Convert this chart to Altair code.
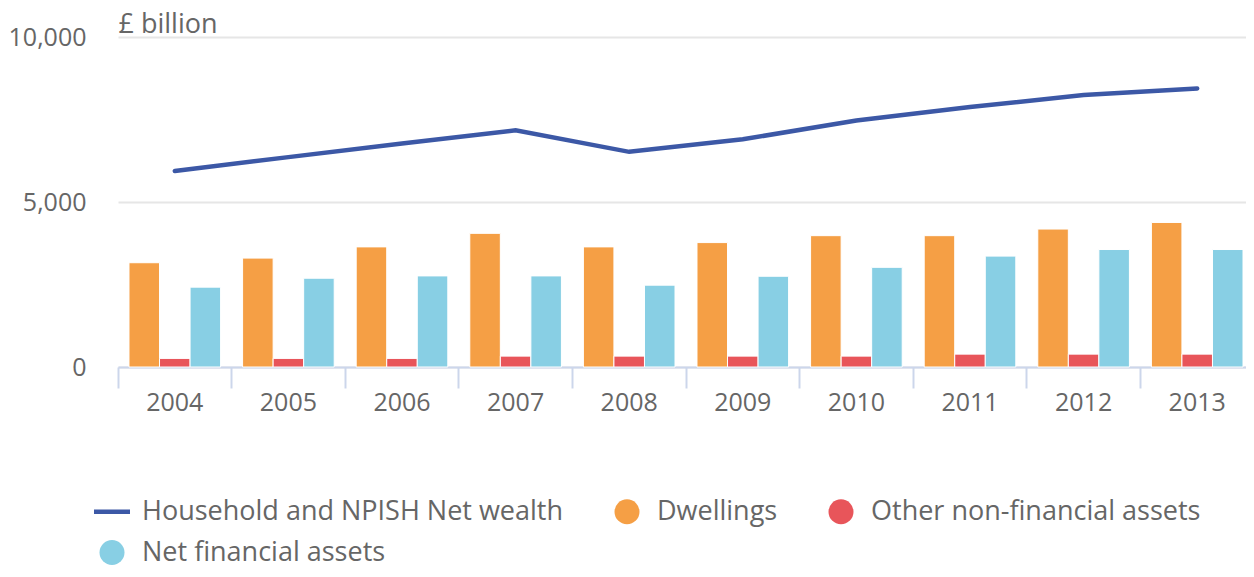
import altair as alt
import pandas as pd

years = ["2004", "2005", "2006", "2007", "2008", "2009", "2010", "2011", "2012", "2013"]
dwellings = [3160, 3300, 3640, 4050, 3640, 3770, 3980, 3980, 4180, 4380]
other_nonfin = [260, 260, 260, 330, 330, 330, 330, 390, 390, 390]
net_financial = [2420, 2690, 2760, 2760, 2480, 2750, 3020, 3360, 3560, 3560]
net_wealth = [5940, 6360, 6770, 7170, 6520, 6900, 7470, 7880, 8240, 8440]

LINE_NAME = "Household and NPISH Net wealth"
series_names = [LINE_NAME, "Dwellings", "Other non-financial assets", "Net financial assets"]
series_colors = ["#3c58a6", "#f59f45", "#e8555a", "#88cfe4"]
bar_names = series_names[1:]

bar_rows = []
for i, y in enumerate(years):
    for name, vals in zip(bar_names, [dwellings, other_nonfin, net_financial]):
        bar_rows.append({"year": y, "series": name, "value": vals[i]})
bars_df = pd.DataFrame(bar_rows)
line_df = pd.DataFrame({"year": years, "series": LINE_NAME, "value": net_wealth})

FONT = "Open Sans"
TEXT = "#666666"
W = 1136
H = 330

is_line = f"datum.value == '{LINE_NAME}'"
legend = alt.Legend(
    title=None,
    orient="none",
    legendX=-19.5,
    legendY=461,
    direction="horizontal",
    columns=3,
    columnPadding=50,
    rowPadding=13,
    padding=0,
    labelFont=FONT,
    labelFontSize=27,
    labelColor=TEXT,
    labelLimit=0,
    labelOffset=16.5,
    symbolType={"expr": f"{is_line} ? 'stroke' : 'circle'"},
    symbolSize={"expr": f"{is_line} ? 1296 : 625"},
    symbolStrokeWidth={"expr": f"{is_line} ? 4.5 : 0"},
    symbolStrokeColor={"expr": "scale('color', datum.value)"},
    symbolFillColor={"expr": "scale('color', datum.value)"},
    symbolOpacity=1,
)

color = alt.Color(
    "series:N",
    scale=alt.Scale(domain=series_names, range=series_colors),
    legend=legend,
)

x_enc = alt.X(
    "year:O",
    sort=years,
    scale=alt.Scale(paddingInner=0, paddingOuter=0),
    axis=alt.Axis(
        title=None,
        bandPosition=0,
        domainColor="#ccd6eb",
        domainWidth=2,
        tickColor="#ccd6eb",
        tickWidth=2,
        tickSize=21,
        labelFont=FONT,
        labelFontSize=25,
        labelColor=TEXT,
        labelAngle=0,
        labelPadding=2,
        labelAlign="center",
        grid=False,
    ),
)

y_enc = alt.Y(
    "value:Q",
    scale=alt.Scale(domain=[0, 10000], nice=False),
    axis=alt.Axis(
        title="£ billion",
        titleAngle=0,
        titleAlign="left",
        titleBaseline="alphabetic",
        titleX=0,
        titleY=-5,
        titleFont=FONT,
        titleFontSize=27,
        titleFontWeight="normal",
        titleColor=TEXT,
        values=[0, 5000, 10000],
        format=",.0f",
        domain=False,
        ticks=False,
        labelFont=FONT,
        labelFontSize=25,
        labelColor=TEXT,
        labelPadding=32,
        gridColor="#e6e6e6",
        gridWidth=2,
    ),
)

bars = alt.Chart(bars_df).mark_bar(stroke="white", strokeWidth=1).encode(
    x=x_enc,
    xOffset=alt.XOffset("series:N", sort=bar_names,
                        scale=alt.Scale(domain=bar_names, paddingInner=0, paddingOuter=0.36)),
    y=y_enc,
    color=color,
)

line = alt.Chart(line_df).mark_line(strokeWidth=4.5, strokeCap="round").encode(
    x=alt.X("year:O", sort=years),
    y=alt.Y("value:Q"),
    color=color,
)

chart = alt.layer(bars, line).properties(
    width=W,
    height=H,
    autosize=alt.AutoSizeParams(type="none"),
    padding={"left": 110, "top": 29, "right": -8, "bottom": 202},
).configure_view(stroke=None)

chart.save("out.html", embed_options={"renderer": "svg", "actions": False})
